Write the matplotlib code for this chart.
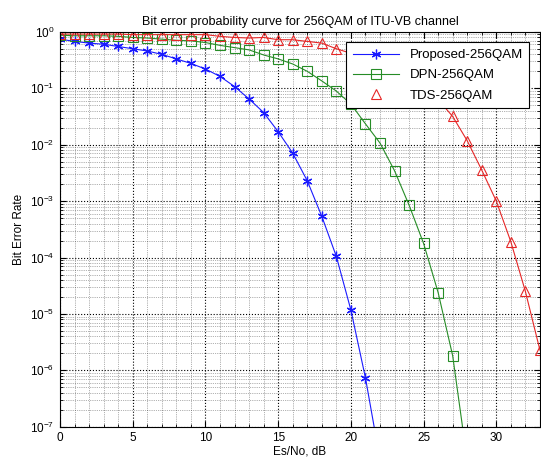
import numpy as np
import matplotlib.pyplot as plt
from matplotlib.ticker import LogLocator, NullFormatter, MultipleLocator

# Es/No in dB and log10 of the bit error rate
snr_prop = list(range(0, 23))
log_prop = [-0.13, -0.17, -0.20, -0.22, -0.26, -0.30, -0.34, -0.40, -0.48, -0.56,
            -0.66, -0.79, -0.97, -1.19, -1.43, -1.77, -2.15, -2.64, -3.27, -3.98,
            -4.93, -6.13, -7.58]

snr_dpn = list(range(0, 29))
log_dpn = [-0.06, -0.07, -0.07, -0.07, -0.08, -0.10, -0.11, -0.13, -0.15, -0.16,
           -0.19, -0.24, -0.28, -0.32, -0.41, -0.48, -0.57, -0.70, -0.87, -1.05,
           -1.28, -1.63, -1.97, -2.46, -3.07, -3.75, -4.62, -5.74, -7.60]

snr_tds = list(range(0, 34))
log_tds = [-0.04, -0.04, -0.04, -0.04, -0.04, -0.05, -0.05, -0.05, -0.05, -0.05,
           -0.05, -0.08, -0.10, -0.11, -0.10, -0.14, -0.14, -0.17, -0.20, -0.30,
           -0.38, -0.47, -0.58, -0.70, -0.85, -1.00, -1.20, -1.50, -1.93, -2.45,
           -3.00, -3.72, -4.60, -5.64]

yticks = [1e-7, 1e-6, 1e-5, 1e-4, 1e-3, 1e-2, 1e-1, 1]
xticks = [0, 5, 10, 15, 20, 25, 30]

ber_prop = 10.0 ** np.array(log_prop)
ber_dpn = 10.0 ** np.array(log_dpn)
ber_tds = 10.0 ** np.array(log_tds)

plt.rcParams['font.family'] = ['Liberation Sans', 'DejaVu Sans']
plt.rcParams['font.size'] = 8.5

fig = plt.figure(figsize=(5.41, 4.68), dpi=100)
ax = fig.add_axes([0.111, 0.088, 0.887, 0.844])

blue = (0.1, 0.1, 1.0)
green = (0.15, 0.55, 0.15)
red = (0.9, 0.15, 0.15)

ax.semilogy(snr_prop, ber_prop, '-', color=blue, lw=0.8, marker=(6, 2, 0),
            ms=7, mew=0.9, label='Proposed-256QAM')
ax.semilogy(snr_dpn, ber_dpn, '-', color=green, lw=0.8, marker='s',
            ms=6.5, mew=0.8, mfc='none', label='DPN-256QAM')
ax.semilogy(snr_tds, ber_tds, '-', color=red, lw=0.8)
ax.semilogy(snr_tds, ber_tds, ls='none', color=red, marker='^',
            ms=6.5, mew=0.8, mfc='none', label='TDS-256QAM')

ax.set_xlim(0, 33)
ax.set_ylim(1e-7, 1)
ax.set_xticks(xticks)
ax.xaxis.set_minor_locator(MultipleLocator(1))
ax.set_yticks(yticks)
ax.yaxis.set_minor_locator(LogLocator(base=10, subs=np.arange(2, 10), numticks=20))
ax.yaxis.set_minor_formatter(NullFormatter())

ax.grid(True, which='major', ls=':', color='k', lw=0.8)
ax.grid(True, which='minor', ls=':', color='k', lw=0.5, alpha=0.6)
ax.tick_params(which='both', direction='in', top=True, right=True)
ax.tick_params(which='major', length=4, pad=4)
ax.tick_params(which='minor', length=2)

ax.set_title('Bit error probability curve for 256QAM of ITU-VB channel', fontsize=9, pad=5)
ax.set_xlabel('Es/No, dB', labelpad=1)
ax.set_ylabel('Bit Error Rate', labelpad=4)

leg = ax.legend(loc='upper right', fancybox=False, edgecolor='k',
                framealpha=1, borderaxespad=0.8, fontsize=9.5, handlelength=3.5,
                labelspacing=0.6, borderpad=0.5)
leg.get_frame().set_linewidth(0.8)

fig.savefig('out.png', dpi=100)
